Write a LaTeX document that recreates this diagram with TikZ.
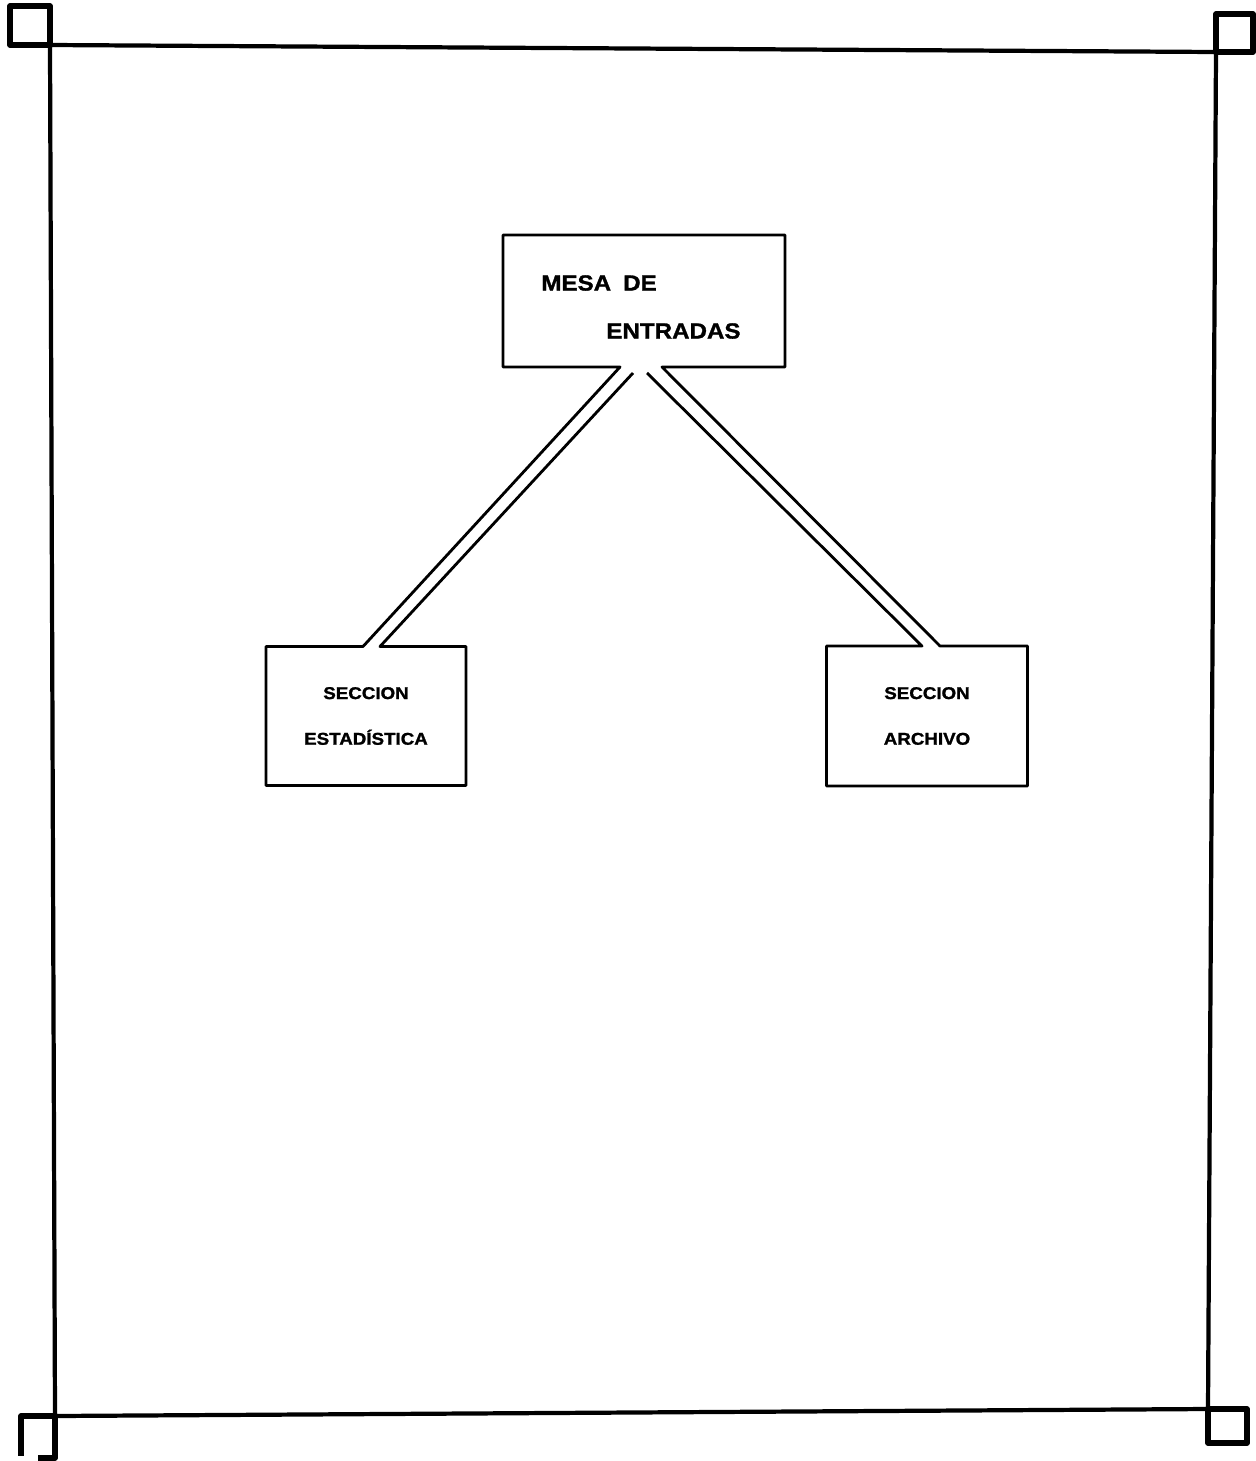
\documentclass[tikz,border=0pt]{standalone}
\usepackage{fontspec}
\setmainfont{Liberation Sans}[FakeStretch=1.12]
\newfontfamily\lblfont{Liberation Sans}[FakeStretch=1.1, BoldFeatures={FakeBold=1.3}]
\usetikzlibrary{calc,positioning}

\begin{document}
\begin{tikzpicture}[x=0.02cm, y=-0.02cm,
        frame/.style={line width=2.4pt},
        corner/.style={line width=3pt, line join=round},
        outline/.style={line width=1.6pt, line join=round},
        sect/.style={minimum width=4cm, minimum height=2.78cm, inner sep=0pt, outer sep=0pt,
            align=center, font=\lblfont\bfseries\fontsize{9.7}{26}\selectfont},
        big/.style={inner sep=0pt, anchor=west, font=\lblfont\bfseries\fontsize{12.5}{15}\selectfont}]
    \useasboundingbox (0, 0) rectangle (1256, 1461);
    % page frame with its corner marks
    \coordinate (tl) at (50, 45);
    \coordinate (tr) at (1216, 52);
    \coordinate (br) at (1208, 1409);
    \coordinate (bl) at (55, 1416);
    \draw[frame] (tl) -- (tr) -- (br) -- (bl) -- cycle;
    \draw[corner] (tl) rectangle ++(-40, -39);
    \draw[corner] (tr) rectangle ++(37, -38);
    \draw[corner] (br) rectangle ++(39, 34);
    \draw[corner] ($(bl) + (-17, 42)$) -- ++(17, 0) -- (bl) -- ++(-34, 0) -- ++(0, 40);
    % boxes
    \node[inner sep=0pt, outer sep=0pt, minimum width=5.64cm, minimum height=2.64cm] (mesa) at (644, 301) {};
    \node[big] (mesa1) at (541, 283) {MESA\hspace{.55em}DE};
    \node[big] (mesa2) at (606, 331) {ENTRADAS};
    \node[sect] (est) at (366, 716) {SECCION\\ESTAD\'ISTICA};
    \node[sect, minimum width=4.02cm, minimum height=2.8cm] (arch) at (927, 716) {SECCION\\ARCHIVO};
    % where the double lines meet the boxes
    \coordinate (mL) at ($(mesa.south) + (-24, 0)$);
    \coordinate (mR) at ($(mesa.south) + (18, 0)$);
    \coordinate (mi1) at ($(mesa.south) + (-11, 6)$);
    \coordinate (mi2) at ($(mesa.south) + (3, 6)$);
    \coordinate (eL) at ($(est.north) + (-3, 0)$);
    \coordinate (eR) at ($(est.north) + (14, 0)$);
    \coordinate (aL) at ($(arch.north) + (-5, 0)$);
    \coordinate (aR) at ($(arch.north) + (13, 0)$);
    \draw[outline]
        (mi1) -- (eR) -- (est.north east) -- (est.south east) -- (est.south west) -- (est.north west) -- (eL)
        -- (mL) -- (mesa.south west) -- (mesa.north west) -- (mesa.north east) -- (mesa.south east) -- (mR)
        -- (aR) -- (arch.north east) -- (arch.south east) -- (arch.south west) -- (arch.north west) -- (aL)
        -- (mi2);
\end{tikzpicture}
\end{document}
